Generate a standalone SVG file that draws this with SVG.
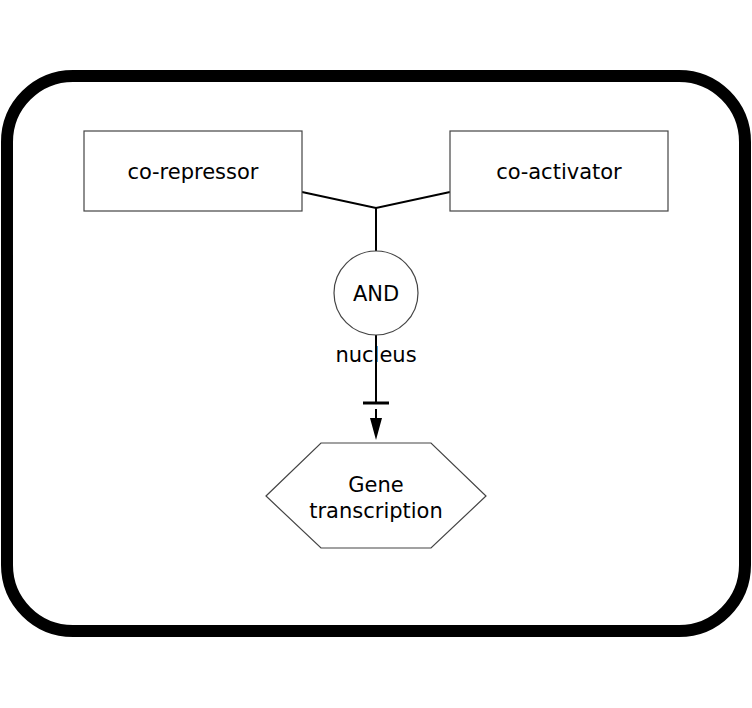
<svg xmlns="http://www.w3.org/2000/svg" width="752" height="708" viewBox="0 0 752 708">
<style>
.box{fill:#fff;stroke:#444;stroke-width:1.2}
.lbl{font-family:"DejaVu Sans",sans-serif;font-size:21px;fill:#000;text-anchor:middle}
.edge{stroke:#000;stroke-width:2;fill:none}
</style>
<rect x="7" y="76" width="738" height="555" rx="66" ry="66" fill="#fff" stroke="#000" stroke-width="12"/>
<g id="connectors">
<polyline class="edge" points="302,192 376,208 450,192"/>
<line class="edge" x1="376" y1="208" x2="376" y2="251"/>
<line class="edge" x1="376" y1="335" x2="376" y2="403"/>
<line x1="363" y1="403" x2="389" y2="403" stroke="#000" stroke-width="3"/>
<path d="M376,409 L376,418" class="edge"/>
<path d="M370,418 L382,418 L376,440 Z" fill="#000"/>
</g>
<g id="co-repressor">
<rect class="box" x="84" y="131" width="218" height="80"/>
<text class="lbl" x="193" y="179">co‑repressor</text>
</g>
<g id="co-activator">
<rect class="box" x="450" y="131" width="218" height="80"/>
<text class="lbl" x="559" y="179">co‑activator</text>
</g>
<g id="and">
<circle cx="376" cy="293" r="42" fill="#fff" stroke="#444" stroke-width="1.2"/>
<text class="lbl" x="376" y="301">AND</text>
</g>
<g id="nucleus-label">
<text class="lbl" x="376" y="362" font-size="20">nucleus</text>
</g>
<g id="gene-transcription">
<polygon class="box" points="266,496 321,443 431,443 486,496 431,548 321,548"/>
<text class="lbl" x="376" y="492">Gene</text>
<text class="lbl" x="376" y="518">transcription</text>
</g>
</svg>
